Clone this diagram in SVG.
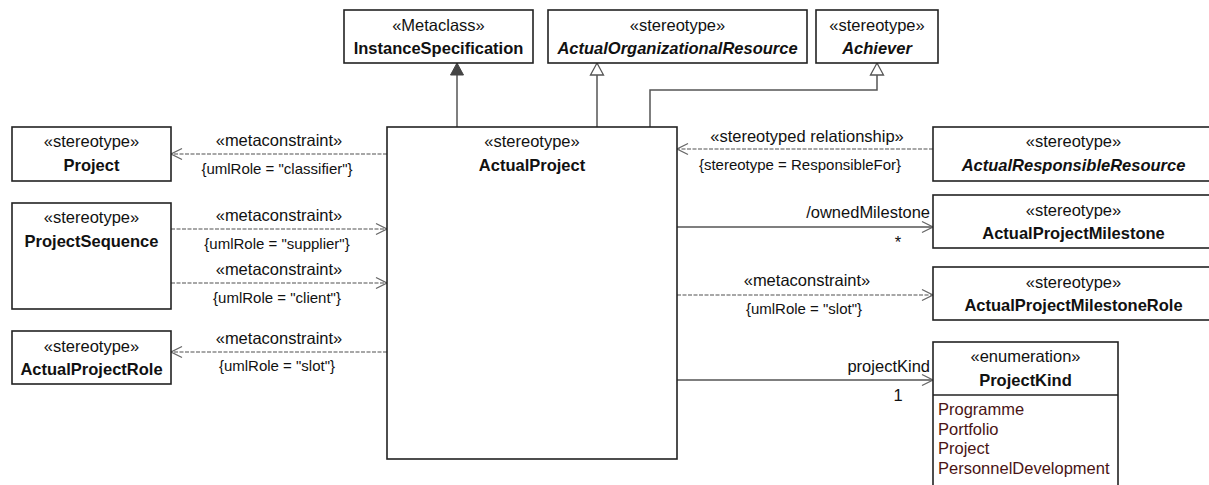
<svg xmlns="http://www.w3.org/2000/svg" width="1209" height="485" viewBox="0 0 1209 485">
<style>
text{font-family:"Liberation Sans",Arial,sans-serif;fill:#111;}
.st{font-size:16.5px;text-anchor:middle;}
.nm{font-size:16.5px;font-weight:bold;text-anchor:middle;}
.it{font-style:italic;}
.lb{font-size:16.5px;text-anchor:middle;}
.cs{font-size:15px;text-anchor:middle;}
.rt{font-size:16.5px;text-anchor:end;}
.en{font-size:16.5px;fill:#4a1414;}
.box{fill:#fff;stroke:#222;stroke-width:1.6;}
.sol{fill:none;stroke:#555;stroke-width:1.5;}
.dash{fill:none;stroke:#8a8a8a;stroke-width:1.3;stroke-dasharray:4 1.5;}
</style>
<defs>
<marker id="open" markerUnits="userSpaceOnUse" markerWidth="14" markerHeight="14" refX="11" refY="6" orient="auto" overflow="visible">
<path d="M0,0.5 L11,6 L0,11.5" fill="none" stroke="#666" stroke-width="1.3"/>
</marker>
<marker id="tri" markerUnits="userSpaceOnUse" markerWidth="16" markerHeight="16" refX="12" refY="6.5" orient="auto" overflow="visible">
<path d="M0,0 L12,6.5 L0,13 Z" fill="#fff" stroke="#555" stroke-width="1.3"/>
</marker>
<marker id="trif" markerUnits="userSpaceOnUse" markerWidth="16" markerHeight="16" refX="12" refY="6.5" orient="auto" overflow="visible">
<path d="M0,0 L12,6.5 L0,13 Z" fill="#444" stroke="#444" stroke-width="1"/>
</marker>
</defs>
<rect width="1209" height="485" fill="#fff"/>

<g id="connectors">
<path class="sol" d="M457,127 V63" marker-end="url(#trif)"/>
<path class="sol" d="M597,127 V63" marker-end="url(#tri)"/>
<path class="sol" d="M650,127 V90 H877 V63" marker-end="url(#tri)"/>

<path class="dash" d="M387,154 H171" marker-end="url(#open)"/>
<text class="lb" x="279" y="146">«metaconstraint»</text>
<text class="cs" x="277" y="174">{umlRole = "classifier"}</text>

<path class="dash" d="M171,229 H387" marker-end="url(#open)"/>
<text class="lb" x="279" y="221">«metaconstraint»</text>
<text class="cs" x="277" y="249">{umlRole = "supplier"}</text>

<path class="dash" d="M171,283 H387" marker-end="url(#open)"/>
<text class="lb" x="279" y="275">«metaconstraint»</text>
<text class="cs" x="277" y="303">{umlRole = "client"}</text>

<path class="dash" d="M387,352 H171" marker-end="url(#open)"/>
<text class="lb" x="279" y="344">«metaconstraint»</text>
<text class="cs" x="277" y="371">{umlRole = "slot"}</text>

<path class="dash" d="M933,149 H677" marker-end="url(#open)"/>
<text class="lb" x="807" y="142">«stereotyped relationship»</text>
<text class="cs" x="800" y="170">{stereotype = ResponsibleFor}</text>

<path class="sol" d="M677,227 H933" marker-end="url(#open)"/>
<text class="rt" x="930" y="218">/ownedMilestone</text>
<text class="lb" x="898" y="248">*</text>

<path class="dash" d="M677,295 H933" marker-end="url(#open)"/>
<text class="lb" x="807" y="286">«metaconstraint»</text>
<text class="cs" x="804" y="314">{umlRole = "slot"}</text>

<path class="sol" d="M677,380 H933" marker-end="url(#open)"/>
<text class="rt" x="930" y="372">projectKind</text>
<text class="lb" x="898" y="401">1</text>
</g>

<g id="InstanceSpecification">
<rect class="box" x="344" y="10" width="189" height="53"/>
<text class="st" x="438.5" y="30.5">«Metaclass»</text>
<text class="nm" x="438.5" y="53.5">InstanceSpecification</text>
</g>

<g id="ActualOrganizationalResource">
<rect class="box" x="548" y="10" width="259" height="53"/>
<text class="st" x="677.5" y="30.5">«stereotype»</text>
<text class="nm it" x="677.5" y="53.5">ActualOrganizationalResource</text>
</g>

<g id="Achiever">
<rect class="box" x="816" y="10" width="122" height="53"/>
<text class="st" x="877" y="30.5">«stereotype»</text>
<text class="nm it" x="877" y="53.5">Achiever</text>
</g>

<g id="ActualProject">
<rect class="box" x="387" y="127" width="290" height="332"/>
<text class="st" x="532" y="147">«stereotype»</text>
<text class="nm" x="532" y="171">ActualProject</text>
</g>

<g id="Project">
<rect class="box" x="12" y="127" width="159" height="54"/>
<text class="st" x="91.5" y="147">«stereotype»</text>
<text class="nm" x="91.5" y="171">Project</text>
</g>

<g id="ProjectSequence">
<rect class="box" x="12" y="203" width="159" height="106"/>
<text class="st" x="91.5" y="223">«stereotype»</text>
<text class="nm" x="91.5" y="246.5">ProjectSequence</text>
</g>

<g id="ActualProjectRole">
<rect class="box" x="12" y="331" width="159" height="53"/>
<text class="st" x="91.5" y="351.5">«stereotype»</text>
<text class="nm" x="91.5" y="374.5">ActualProjectRole</text>
</g>

<g id="ActualResponsibleResource">
<rect class="box" x="933" y="127" width="281" height="54"/>
<text class="st" x="1073.5" y="147">«stereotype»</text>
<text class="nm it" x="1073.5" y="170.5">ActualResponsibleResource</text>
</g>

<g id="ActualProjectMilestone">
<rect class="box" x="933" y="195" width="281" height="53"/>
<text class="st" x="1073.5" y="215.5">«stereotype»</text>
<text class="nm" x="1073.5" y="238.5">ActualProjectMilestone</text>
</g>

<g id="ActualProjectMilestoneRole">
<rect class="box" x="933" y="267" width="281" height="53"/>
<text class="st" x="1073.5" y="287.5">«stereotype»</text>
<text class="nm" x="1073.5" y="310.5">ActualProjectMilestoneRole</text>
</g>

<g id="ProjectKind">
<rect class="box" x="933" y="342" width="185" height="160"/>
<line x1="933" y1="395" x2="1118" y2="395" stroke="#222" stroke-width="1.6"/>
<text class="st" x="1025.5" y="362">«enumeration»</text>
<text class="nm" x="1025.5" y="386">ProjectKind</text>
<text class="en" x="938" y="415">Programme</text>
<text class="en" x="938" y="434.5">Portfolio</text>
<text class="en" x="938" y="454">Project</text>
<text class="en" x="938" y="473.5">PersonnelDevelopment</text>
</g>
</svg>
